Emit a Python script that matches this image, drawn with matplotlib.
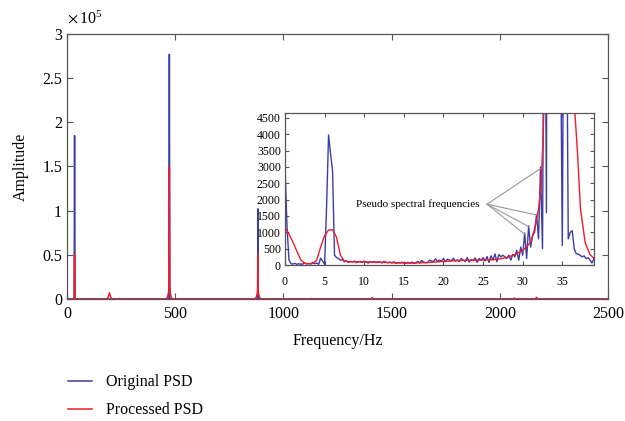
import numpy as np
import matplotlib
matplotlib.use("Agg")
import matplotlib.pyplot as plt

plt.rcParams['font.family'] = ['Liberation Serif', 'DejaVu Serif']
plt.rcParams['mathtext.fontset'] = 'stix'

BLUE = "#3c3ca8"
RED = "#ec1c2a"
FRAME = "#555555"

# main spectrum (Hz, amplitude)
main_freq = [0, 3, 30, 33, 35, 37, 40, 185, 191, 196, 201, 207, 240, 243, 246,
             455, 464, 469, 471, 473, 475, 477, 482, 491,
             866, 874, 879, 881, 882, 883, 885, 890, 898,
             1127, 1130, 1133, 1406, 1410, 1414, 2064, 2068, 2072, 2165, 2170, 2175, 2500]
main_orig = [4000, 0, 0, 0, 185000, 0, 0, 0, 0, 0, 0, 0, 0, 0, 0,
             0, 0, 0, 0, 277000, 0, 0, 0, 0,
             0, 0, 0, 0, 102000, 0, 0, 0, 0,
             0, 0, 0, 0, 0, 0, 0, 0, 0, 0, 0, 0, 0]
main_proc = [1000, 0, 0, 0, 50000, 0, 0, 0, 2500, 7000, 2500, 0, 0, 800, 0,
             0, 1500, 7000, 12000, 150000, 12000, 7000, 1500, 0,
             0, 1500, 6000, 10000, 50000, 10000, 6000, 1500, 0,
             0, 600, 0, 0, 1800, 0, 0, 1200, 0, 0, 2000, 0, 0]

# inset: 0-39 Hz zoom, original PSD every 0.25 Hz
inset_orig_freq = np.arange(0, 39.01, 0.25)
inset_orig = [
    3000, 1200, 150, 40, 30, 50, 20, 40,
    25, 30, 60, 30, 50, 30, 80, 40,
    60, 20, 210, 120, 20, 1800, 3980, 3400,
    2900, 300, 230, 200, 150, 170, 100, 130,
    80, 110, 90, 120, 70, 100, 110, 80,
    120, 90, 60, 100, 80, 110, 70, 100,
    90, 60, 110, 80, 70, 90, 60, 100,
    50, 80, 60, 90, 60, 50, 80, 60,
    90, 50, 70, 110, 60, 140, 90, 70,
    80, 150, 120, 110, 190, 110, 150, 120,
    200, 100, 180, 150, 130, 210, 120, 160,
    100, 200, 150, 110, 230, 90, 170, 130,
    220, 80, 200, 140, 230, 120, 260, 80,
    280, 150, 340, 100, 320, 250, 300, 250,
    200, 300, 150, 330, 250, 450, 150, 550,
    300, 980, 200, 1200, 550, 900, 1000, 1550,
    800, 3000, 500, 12000, 1600, 40000, 120000, 185000,
    150000, 80000, 30000, 8000, 600, 12000, 10000, 800,
    1000, 1050, 500, 350, 330, 300, 250, 280,
    200, 220, 150, 60, 200]
inset_proc_freq = [0, 0.5, 1.0, 1.5, 2.0, 2.5, 3.0, 3.5, 4.0, 4.5, 5.0, 5.5, 6.0,
                   6.5, 7.0, 7.5, 8.0, 10, 12, 14, 16, 18, 20, 22, 24, 26, 27, 28,
                   29, 30, 30.5, 31, 31.5, 32, 32.3, 32.6, 32.9, 33.5, 34.2, 35, 36,
                   36.5, 36.9, 37.3, 37.9, 38.5, 39]
inset_proc = [1150, 950, 700, 420, 150, 50, 40, 45, 150, 550, 900, 1070, 1080,
              850, 300, 120, 100, 95, 85, 70, 60, 75, 110, 140, 150, 160, 180, 230,
              320, 450, 560, 700, 1100, 1700, 2400, 4000, 8000, 30000, 50000, 30000, 9000,
              5000, 3500, 1700, 670, 320, 200]

# pseudo spectral frequencies pointed at in the inset
pseudo_x = [32.3, 31.8, 30.8, 30.25]
pseudo_y = [2960, 1530, 1170, 940]


def style_axes(ax, size):
    for s in ax.spines.values():
        s.set_color(FRAME)
        s.set_linewidth(0.9)
    ax.tick_params(direction='in', top=True, right=True, labelsize=size,
                   color=FRAME, length=4, width=0.8)


fig = plt.figure(figsize=(6.25, 4.21), dpi=100)
ax = fig.add_axes([0.1072, 0.2898, 0.8656, 0.6295])
ax.plot(main_freq, np.array(main_orig) / 1e5, color=BLUE, lw=1.1, label='Original PSD')
ax.plot(main_freq, np.array(main_proc) / 1e5, color=RED, lw=1.1, label='Processed PSD')
ax.set_xlim(0, 2500)
ax.set_ylim(0, 3)
ax.set_xticks([0, 500, 1000, 1500, 2000, 2500])
ax.set_yticks([0, 0.5, 1, 1.5, 2, 2.5, 3])
ax.set_yticklabels(['0', '0.5', '1', '1.5', '2', '2.5', '3'])
style_axes(ax, 11.5)
ax.tick_params(axis='x', pad=5)
ax.set_xlabel('Frequency/Hz', fontsize=11.5, labelpad=8)
ax.set_ylabel('Amplitude', fontsize=11.5, labelpad=10)
fig.text(0.107, 0.945, r'$\times\,\mathregular{10^5}$', fontsize=11.5)

ins = fig.add_axes([0.456, 0.3705, 0.4944, 0.361])
ins.plot(inset_orig_freq, inset_orig, color=BLUE, lw=1.0)
ins.plot(inset_proc_freq, inset_proc, color=RED, lw=1.0)
ins.set_xlim(0, 39)
ins.set_ylim(0, 4650)
ins.set_xticks([0, 5, 10, 15, 20, 25, 30, 35])
ins.set_yticks(range(0, 4501, 500))
style_axes(ins, 8.5)
ins.tick_params(length=3, pad=3)
ins.tick_params(axis='x', pad=8)

src = (25.5, 1860)
for px, py in zip(pseudo_x, pseudo_y):
    ins.plot([src[0], px], [src[1], py], color='#999999', lw=0.8)
ins.text(24.6, 1860, 'Pseudo spectral frequencies', fontsize=8,
         ha='right', va='center')

fig.legend(loc='upper left', bbox_to_anchor=(0.098, 0.126), frameon=False,
           fontsize=11.5, handlelength=1.5, handletextpad=0.9, labelspacing=0.75,
           borderaxespad=0)

fig.savefig('out.png', dpi=100)
